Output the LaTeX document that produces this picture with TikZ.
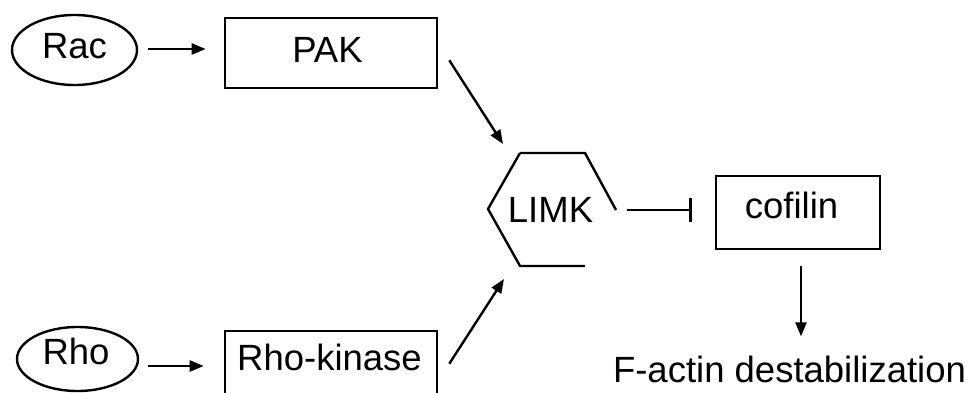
\documentclass[tikz,border=0pt]{standalone}
\usepackage{fontspec}
\setmainfont{Liberation Sans}
\usetikzlibrary{arrows.meta,calc,shapes.geometric}
\begin{document}
\begin{tikzpicture}[x=1pt,y=1pt,
  line width=2.4pt,
  ell/.style={draw, ellipse, inner sep=0pt, minimum width=#1, minimum height=70pt},
  boxnode/.style={draw, rectangle, inner sep=0pt, line width=2.6pt},
  lbl/.style={anchor=base, inner sep=0pt, font=\fontsize{36.5}{40}\selectfont},
  arr/.style={-{Triangle[length=14pt,width=11pt]}},
  inh/.style={-{Bar[width=24pt,line width=2.4pt]}}]
\useasboundingbox (0,0) rectangle (973,392);
\clip (0,0) rectangle (973,392);
% nodes
\node[ell=125pt] (rac) at (74.5,342) {};
\node[lbl] (ract) at (74.5,334) {Rac};
\node[boxnode, minimum width=212pt, minimum height=70pt] (pak) at (331,339) {};
\node[lbl] (pakt) at (327.5,330) {PAK};
\node[ell=121pt, minimum height=64pt] (rho) at (77.5,33) {};
\node[lbl] (rhot) at (76,28) {Rho};
\node[boxnode, minimum width=212pt, minimum height=70pt] (rhok) at (331,26) {};
\node[lbl] (rhokt) at (329.5,22) {Rho-kinase};
\coordinate (lk) at (550,183);
\node[lbl] (limkt) at (550.5,170) {LIMK};
\draw (520,239) -- (585,239) -- (616,182);
\draw (520,239) -- (488,183) -- (520,126) -- (585,126);
\node[boxnode, minimum width=164pt, minimum height=73pt] (cof) at (798,179.5) {};
\node[lbl] (coft) at (791.5,174) {cofilin};
\node[lbl] (fa) at (789.5,10) {F-actin destabilization};
% connectors
\draw[arr, shorten <=10pt, shorten >=18pt] ([yshift=1pt]rac.east) -- ([yshift=1pt]rac.east -| pak.west);
\draw[arr, shorten <=9pt, shorten >=20pt] ([yshift=-7pt]rho.east) -- ([yshift=-7pt]rho.east -| rhok.west);
\draw[arr] ([shift={(11,29)}]pak.south east) -- ([shift={(-47,65)}]lk);
\draw[arr] ([shift={(11,-34)}]rhok.north east) -- ([shift={(-46,-70)}]lk);
\draw[inh] ([shift={(77,-1)}]lk) -- ([shift={(-23,2.5)}]cof.west);
\draw[arr, shorten <=16pt, shorten >=18pt] ([xshift=3pt]cof.south) -- ([xshift=3pt]cof.south |- fa.north);
\end{tikzpicture}
\end{document}
